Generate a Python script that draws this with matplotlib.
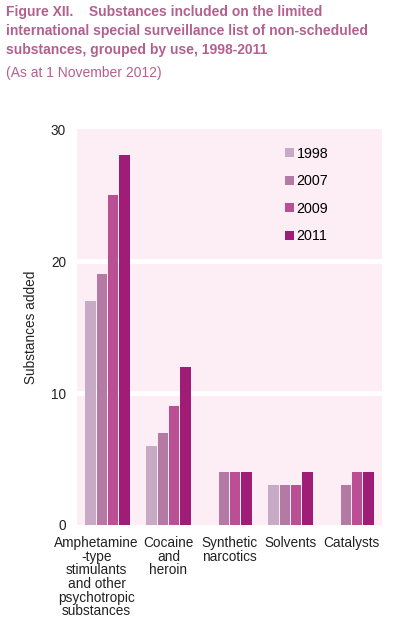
import matplotlib
matplotlib.use("Agg")
import matplotlib.pyplot as plt
from matplotlib.patches import Patch
import matplotlib.transforms as mtransforms
import numpy as np

categories = ["Amphetamine\n-type\nstimulants\nand other\npsychotropic\nsubstances",
              "Cocaine\nand\nheroin", "Synthetic\nnarcotics", "Solvents", "Catalysts"]
years = ["1998", "2007", "2009", "2011"]
v1998 = [17, 6, 0, 3, 0]
v2007 = [19, 7, 4, 3, 3]
v2009 = [25, 9, 4, 3, 4]
v2011 = [28, 12, 4, 4, 4]
series = [v1998, v2007, v2009, v2011]
colors = ["#c6aac6", "#b47aa4", "#bb4f93", "#a01d77"]
title_color = "#b2608f"

plt.rcParams['font.family'] = ['Liberation Sans', 'DejaVu Sans']

fig = plt.figure(figsize=(3.97, 6.2), dpi=100)
W, H = 397, 620
ax = fig.add_axes([77 / W, 1 - 525 / H, 305 / W, (525 - 129) / H])
ax.set_facecolor("#fdedf5")

x = np.arange(len(categories))
bw = 0.185
for i, (vals, c) in enumerate(zip(series, colors)):
    off = (i - 1.5) * bw
    ax.bar(x + off, vals, width=bw - 0.018, color=c, label=years[i], zorder=3)

ax.set_xlim(-0.5, 4.5)
ax.set_ylim(0, 30)
ax.set_yticks([0, 10, 20, 30])
for yv in [10, 20]:
    ax.axhline(yv, color="white", lw=3.5, zorder=2)
for s in ax.spines.values():
    s.set_visible(False)
ax.tick_params(axis='both', length=0, labelsize=9.8, colors="#222222")
ax.tick_params(axis='y', pad=8)
ax.set_xticks(x)
ax.set_xticklabels(categories, fontsize=9.8, linespacing=0.97)
ax.tick_params(axis='x', pad=8)
ax.set_ylabel("Substances added", fontsize=9.8, labelpad=9, color="#222222")

# nudge the long first label left, as in the original
lbl0 = ax.get_xticklabels()[0]
lbl0.set_transform(lbl0.get_transform() +
                   mtransforms.ScaledTranslation(-11 / 100, 0, fig.dpi_scale_trans))

handles = [Patch(facecolor=c, label=y) for c, y in zip(colors, years)]
leg = ax.legend(handles=handles, loc="upper left", bbox_to_anchor=(0.64, 0.988),
                frameon=False, fontsize=10.3, handlelength=0.6, handleheight=0.6,
                handletextpad=0.2, labelspacing=0.95)

fig.text(6 / W, 1 - 5 / H,
         "Figure XII.    Substances included on the limited\n"
         "international special surveillance list of non-scheduled\n"
         "substances, grouped by use, 1998-2011",
         fontsize=10, fontweight="bold", color=title_color, va="top",
         linespacing=1.45)
fig.text(6 / W, 1 - 66 / H, "(As at 1 November 2012)", fontsize=10,
         color=title_color, va="top")

fig.savefig("out.png", dpi=100)
